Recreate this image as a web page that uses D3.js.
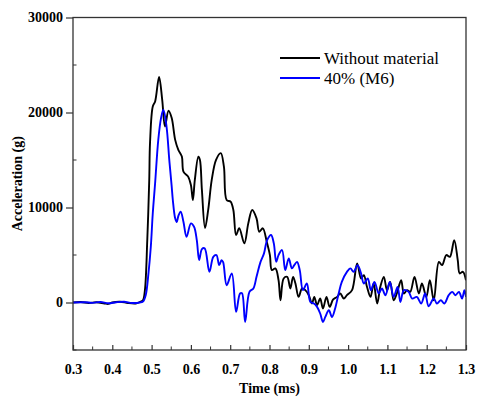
<!DOCTYPE html>
<html>
<head>
<meta charset="utf-8">
<script src="https://cdn.jsdelivr.net/npm/d3@7/dist/d3.min.js"></script>
<style>
  body { margin: 0; background: #fff; }
  svg text { font-family: "Times New Roman", Times, "Liberation Serif", "Nimbus Roman", "DejaVu Serif", serif; }
</style>
</head>
<body>
<div id="chart"></div>
<script>
// data: time (ms), acceleration (g)
const seriesNames = ["Without material", "40% (M6)"];
const seriesColors = ["#000000", "#0000ff"];
const FONT = "'Times New Roman', Times, 'Liberation Serif', 'Nimbus Roman', 'DejaVu Serif', serif";

const timeBlack = [0.30, 0.32, 0.34, 0.36, 0.38, 0.39, 0.40, 0.42, 0.44, 0.46, 0.47, 0.478, 0.483, 0.489, 0.494, 0.496, 0.503, 0.509, 0.519, 0.527, 0.534, 0.543, 0.551, 0.560, 0.568, 0.577, 0.581, 0.593, 0.600, 0.605, 0.610, 0.619, 0.623, 0.628, 0.636, 0.644, 0.653, 0.664, 0.676, 0.684, 0.691, 0.701, 0.708, 0.715, 0.723, 0.736, 0.746, 0.756, 0.767, 0.774, 0.783, 0.793, 0.801, 0.806, 0.815, 0.823, 0.828, 0.836, 0.845, 0.853, 0.860, 0.866, 0.874, 0.883, 0.891, 0.900, 0.908, 0.914, 0.921, 0.929, 0.936, 0.945, 0.953, 0.962, 0.972, 0.980, 0.989, 0.997, 1.010, 1.023, 1.033, 1.040, 1.048, 1.057, 1.065, 1.074, 1.082, 1.091, 1.099, 1.107, 1.116, 1.124, 1.135, 1.142, 1.150, 1.158, 1.169, 1.180, 1.188, 1.199, 1.208, 1.218, 1.231, 1.239, 1.250, 1.259, 1.270, 1.279, 1.284, 1.292, 1.300];
const accelBlack = [0, 50, -50, 30, -100, -150, 0, 80, -60, -100, 50, 240, 1300, 6570, 12900, 16800, 20630, 21160, 23740, 21340, 18520, 20180, 19440, 17120, 16070, 15360, 13780, 13250, 12370, 10790, 12900, 15360, 15010, 11850, 7840, 9740, 12900, 15010, 15720, 14300, 10790, 10610, 9740, 7100, 7810, 6220, 8330, 9740, 8860, 7450, 7810, 6390, 4990, 3410, 3590, 2350, 240, 2530, 2700, 1480, 2700, 2000, 590, 1480, 1300, 770, -110, 590, -280, 420, -630, 590, -460, 320, 590, 950, 420, 770, 1300, 4110, 2530, 2880, 1650, 590, 2000, -110, 1650, 2700, 1300, 2170, 240, 950, 2350, 950, 1300, 1120, 2700, 950, 2000, 590, 2350, 240, 4280, 3930, 4990, 4810, 6570, 4460, 3060, 3230, 2350];

const timeBlue = [0.30, 0.33, 0.35, 0.37, 0.39, 0.41, 0.43, 0.45, 0.47, 0.478, 0.485, 0.492, 0.498, 0.503, 0.509, 0.517, 0.524, 0.530, 0.538, 0.545, 0.551, 0.554, 0.560, 0.564, 0.568, 0.574, 0.581, 0.589, 0.600, 0.608, 0.615, 0.621, 0.628, 0.635, 0.647, 0.657, 0.665, 0.672, 0.678, 0.682, 0.691, 0.704, 0.715, 0.725, 0.730, 0.738, 0.749, 0.759, 0.767, 0.777, 0.786, 0.794, 0.804, 0.811, 0.817, 0.823, 0.832, 0.840, 0.849, 0.857, 0.863, 0.870, 0.877, 0.885, 0.895, 0.904, 0.913, 0.921, 0.929, 0.936, 0.942, 0.951, 0.959, 0.967, 0.976, 0.984, 0.997, 1.006, 1.014, 1.024, 1.033, 1.040, 1.050, 1.058, 1.067, 1.078, 1.086, 1.095, 1.106, 1.116, 1.126, 1.133, 1.142, 1.154, 1.163, 1.175, 1.186, 1.196, 1.205, 1.218, 1.226, 1.236, 1.245, 1.256, 1.265, 1.273, 1.282, 1.290, 1.296, 1.300];
const accelBlue = [0, 30, -40, 60, -80, 30, 80, -50, 0, 100, 770, 3060, 5870, 9390, 12590, 17120, 19410, 20290, 18520, 15010, 12270, 10790, 8860, 8470, 9100, 9560, 8500, 6920, 8330, 7980, 6570, 4460, 5620, 5700, 3230, 4810, 4990, 3930, 4460, 4250, 1820, 3060, -990, 950, 980, -2050, 1120, 1480, 2700, 4250, 5170, 6570, 7100, 6220, 4280, 4990, 5520, 3410, 4640, 3590, 3930, 4280, 3410, 1300, 2000, 60, -110, -460, -1160, -2050, -1520, -810, -1520, -630, 950, 2170, 3230, 3590, 3230, 3930, 3060, 2000, 2530, 1300, 2170, 950, 1480, 770, 2170, 590, 1650, 60, 1300, 1120, 420, 590, -110, 950, -390, 420, -110, 240, -110, 770, 1120, 770, 1120, 420, 1300, 590];

const xTicks = [0.3, 0.4, 0.5, 0.6, 0.7, 0.8, 0.9, 1.0, 1.1, 1.2, 1.3];
const yTicks = [0, 10000, 20000, 30000];

const W = 477, H = 402;
const margin = { left: 73, right: 11, top: 17.5, bottom: 52 };

const svg = d3.select("#chart").append("svg")
    .attr("width", W)
    .attr("height", H);

const x = d3.scaleLinear().domain([0.3, 1.3]).range([margin.left, W - margin.right]);
const y = d3.scaleLinear().domain([-5000, 30000]).range([H - margin.bottom, margin.top]);

const series = [
    timeBlack.map((t, i) => [t, accelBlack[i]]),
    timeBlue.map((t, i) => [t, accelBlue[i]])
];

const line = d3.line()
    .x(d => x(d[0]))
    .y(d => y(d[1]))
    .curve(d3.curveCatmullRom.alpha(0.5));

svg.append("defs").append("clipPath").attr("id", "clip")
    .append("rect")
    .attr("x", margin.left).attr("y", margin.top)
    .attr("width", W - margin.right - margin.left)
    .attr("height", H - margin.bottom - margin.top);

svg.append("g").attr("clip-path", "url(#clip)")
    .selectAll("path")
    .data(series)
    .enter()
    .append("path")
    .attr("d", line)
    .attr("fill", "none")
    .attr("stroke", (d, i) => seriesColors[i])
    .attr("stroke-width", 1.9)
    .attr("stroke-linejoin", "round");

// frame
svg.append("rect")
    .attr("x", margin.left).attr("y", margin.top)
    .attr("width", W - margin.right - margin.left)
    .attr("height", H - margin.bottom - margin.top)
    .attr("fill", "none")
    .attr("stroke", "#333")
    .attr("stroke-width", 1.3);

// x axis: ticks point inward
const xAxis = d3.axisBottom(x)
    .tickValues(xTicks)
    .tickFormat(d3.format(".1f"))
    .tickSizeInner(-5)
    .tickSizeOuter(0)
    .tickPadding(14);
const gx = svg.append("g")
    .attr("transform", `translate(0,${H - margin.bottom})`)
    .call(xAxis);

const xMinor = d3.range(0.35, 1.3, 0.1);
gx.selectAll(".minor")
    .data(xMinor)
    .enter()
    .append("line")
    .attr("class", "minor")
    .attr("x1", d => x(d)).attr("x2", d => x(d))
    .attr("y1", 0).attr("y2", -3.5)
    .attr("stroke", "#333");

// y axis: major outward, minor inward
const yAxis = d3.axisLeft(y)
    .tickValues(yTicks)
    .tickFormat(d3.format("d"))
    .tickSizeInner(7)
    .tickSizeOuter(0)
    .tickPadding(3);
const gy = svg.append("g")
    .attr("transform", `translate(${margin.left},0)`)
    .call(yAxis);

const yMinor = [-5000, 5000, 15000, 25000];
gy.selectAll(".minor")
    .data(yMinor)
    .enter()
    .append("line")
    .attr("class", "minor")
    .attr("x1", 0).attr("x2", 3.5)
    .attr("y1", d => y(d)).attr("y2", d => y(d))
    .attr("stroke", "#333");

[gx, gy].forEach(g => {
    g.attr("font-family", FONT);
    g.select(".domain").remove();
    g.selectAll(".tick line").attr("stroke", "#333").attr("stroke-width", 1.2);
    g.selectAll(".tick text")
        .attr("fill", "#000")
        .style("font-family", FONT)
        .style("font-size", "14px")
        .style("font-weight", "bold");
});

// axis titles
svg.append("text")
    .attr("x", (margin.left + W - margin.right) / 2)
    .attr("y", 393)
    .attr("text-anchor", "middle")
    .style("font-family", FONT)
    .style("font-size", "14px")
    .style("font-weight", "bold")
    .text("Time (ms)");

svg.append("text")
    .attr("transform", `translate(22,${(margin.top + H - margin.bottom) / 2}) rotate(-90)`)
    .attr("text-anchor", "middle")
    .style("font-family", FONT)
    .style("font-size", "14px")
    .style("font-weight", "bold")
    .text("Acceleration (g)");

// legend
const legend = svg.append("g").attr("transform", "translate(280,58)");
seriesNames.forEach((name, i) => {
    legend.append("line")
        .attr("x1", 0).attr("x2", 40)
        .attr("y1", i * 20).attr("y2", i * 20)
        .attr("stroke", seriesColors[i])
        .attr("stroke-width", 1.9);
    legend.append("text")
        .attr("x", 44)
        .attr("y", i * 20 + 6)
        .style("font-family", FONT)
        .style("font-size", "17px")
        .text(name);
});
</script>
</body>
</html>
